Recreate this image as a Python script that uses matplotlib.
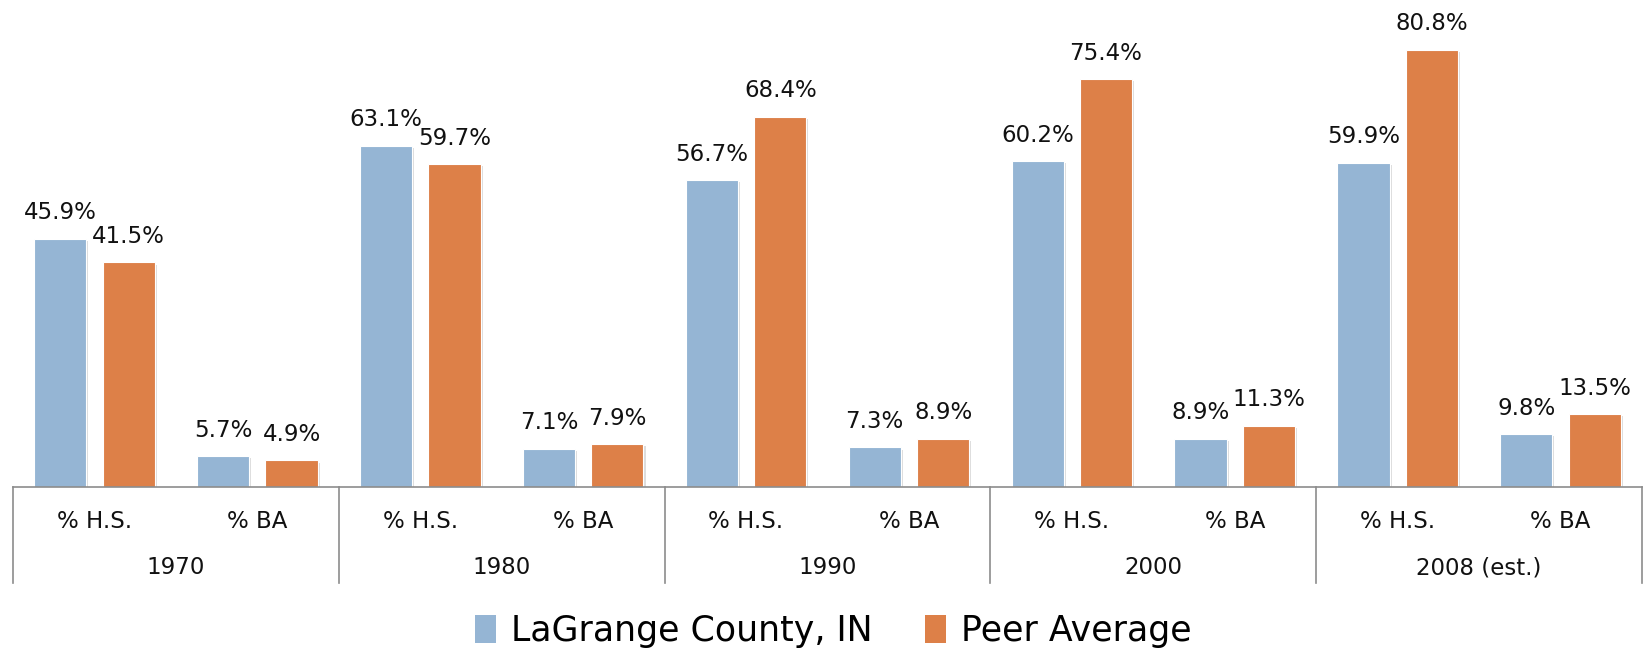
import matplotlib
matplotlib.use("Agg")
import matplotlib.pyplot as plt
import matplotlib.patheffects as pe
from matplotlib.patches import Patch
import numpy as np

years = ["1970", "1980", "1990", "2000", "2008 (est.)"]
measures = ["% H.S.", "% BA"]
series_names = ["LaGrange County, IN", "Peer Average"]
lagrange = [45.9, 5.7, 63.1, 7.1, 56.7, 7.3, 60.2, 8.9, 59.9, 9.8]
peer = [41.5, 4.9, 59.7, 7.9, 68.4, 8.9, 75.4, 11.3, 80.8, 13.5]
colors = ["#95B5D4", "#DD8048"]

plt.rcParams['font.family'] = ['DejaVu Sans']

fig = plt.figure(figsize=(16.47, 6.48), dpi=100)
ax = fig.add_axes([13/1647, 1 - 487/648, (1642 - 13)/1647, 487/648])

n = len(lagrange)
x = np.arange(n)
w = 0.32
off = 0.21
shadow = [pe.SimplePatchShadow(offset=(1.5, -1.5), shadow_rgbFace='#909090', alpha=0.3), pe.Normal()]
for vals, dx, c in [(lagrange, -off, colors[0]), (peer, off, colors[1])]:
    bars = ax.bar(x + dx, vals, width=w, color=c, edgecolor='white', linewidth=0.8, zorder=3)
    for b, v in zip(bars, vals):
        b.set_path_effects(shadow)
        ax.annotate(f"{v:.1f}%", (b.get_x() + b.get_width()/2, v), xytext=(0, 14),
                    textcoords='offset points', ha='center', va='baseline', fontsize=16.5, color='#111111')

ax.set_xlim(-0.5, n - 0.5)
ax.set_ylim(0, 90)
ax.axis('off')

trans = ax.get_xaxis_transform()
line_col = '#8C8C8C'
ax.plot([-0.5, n - 0.5], [0, 0], color=line_col, lw=1.2, transform=trans, clip_on=False, zorder=4)
bottom = -(583 - 487) / 487
for g in range(len(years) + 1):
    xb = -0.5 + 2 * g
    ax.plot([xb, xb], [0, bottom], color=line_col, lw=1.2, transform=trans, clip_on=False)
y_meas = -(521 - 487) / 487
y_year = -(568 - 487) / 487
for i in range(n):
    ax.text(i, y_meas, measures[i % 2], transform=trans, ha='center', va='center', fontsize=16.5, color='#111111')
for g, yr in enumerate(years):
    ax.text(2 * g + 0.5, y_year, yr, transform=trans, ha='center', va='center', fontsize=16.5, color='#111111')

handles = [Patch(facecolor=colors[0]), Patch(facecolor=colors[1])]
fig.legend(handles, series_names, loc='center', bbox_to_anchor=(0.506, 1 - 631/648), ncol=2, frameon=False,
           fontsize=25, handlelength=0.6, handleheight=0.85, handletextpad=0.45, columnspacing=1.5)

fig.savefig("out.png", dpi=100)
